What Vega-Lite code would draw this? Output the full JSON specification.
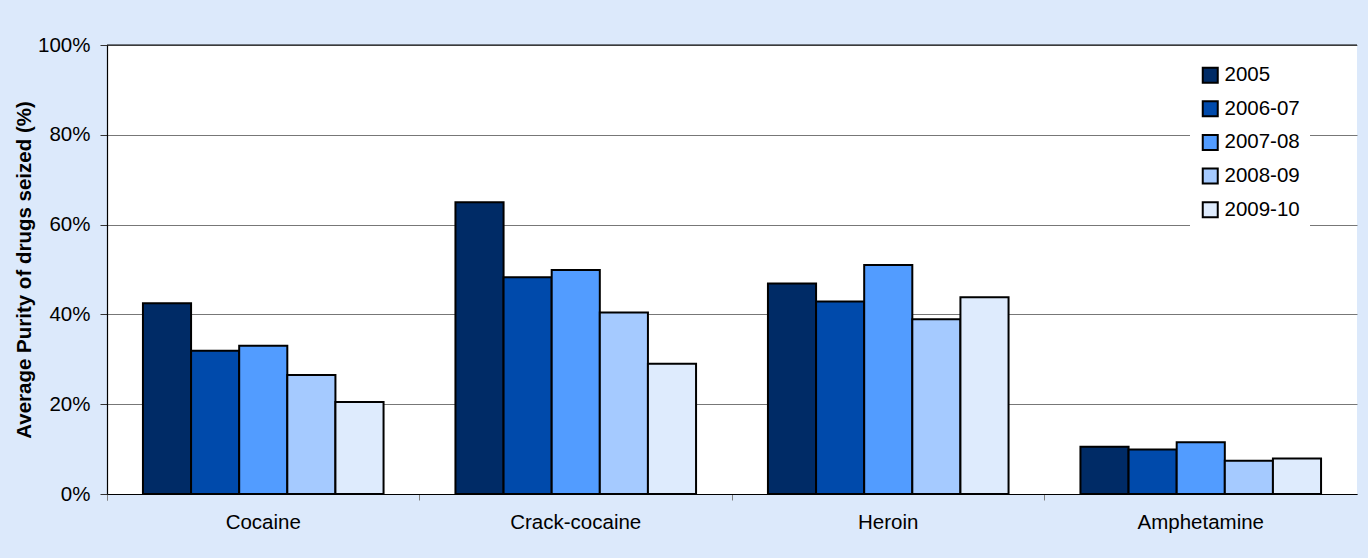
{
  "$schema": "https://vega.github.io/schema/vega-lite/v6.json",
  "width": 1250,
  "height": 449,
  "autosize": {"type": "none"},
  "padding": {"left": 107, "top": 45, "right": 11, "bottom": 64},
  "background": "#dce9fb",
  "config": {
    "view": {"fill": "white", "stroke": null},
    "font": "Liberation Sans"
  },
  "data": {
    "values": [
      {"drug": "Cocaine", "year": "2005", "purity": 42.5},
      {"drug": "Cocaine", "year": "2006-07", "purity": 31.9},
      {"drug": "Cocaine", "year": "2007-08", "purity": 33.0},
      {"drug": "Cocaine", "year": "2008-09", "purity": 26.5},
      {"drug": "Cocaine", "year": "2009-10", "purity": 20.5},
      {"drug": "Crack-cocaine", "year": "2005", "purity": 65.0},
      {"drug": "Crack-cocaine", "year": "2006-07", "purity": 48.3},
      {"drug": "Crack-cocaine", "year": "2007-08", "purity": 49.9},
      {"drug": "Crack-cocaine", "year": "2008-09", "purity": 40.4},
      {"drug": "Crack-cocaine", "year": "2009-10", "purity": 29.0},
      {"drug": "Heroin", "year": "2005", "purity": 46.9},
      {"drug": "Heroin", "year": "2006-07", "purity": 42.9},
      {"drug": "Heroin", "year": "2007-08", "purity": 51.0},
      {"drug": "Heroin", "year": "2008-09", "purity": 38.9},
      {"drug": "Heroin", "year": "2009-10", "purity": 43.8},
      {"drug": "Amphetamine", "year": "2005", "purity": 10.5},
      {"drug": "Amphetamine", "year": "2006-07", "purity": 9.9},
      {"drug": "Amphetamine", "year": "2007-08", "purity": 11.5},
      {"drug": "Amphetamine", "year": "2008-09", "purity": 7.4},
      {"drug": "Amphetamine", "year": "2009-10", "purity": 7.9}
    ]
  },
  "layer": [
    {
      "mark": {"type": "bar", "stroke": "black", "strokeWidth": 2},
      "encoding": {
        "x": {
          "field": "drug",
          "type": "nominal",
          "sort": ["Cocaine", "Crack-cocaine", "Heroin", "Amphetamine"],
          "scale": {"paddingInner": 0, "paddingOuter": 0},
          "axis": {
            "title": null,
            "labelAngle": 0,
            "labelFontSize": 20.5,
            "labelColor": "black",
            "labelPadding": 12,
            "bandPosition": 0,
            "tickExtra": true,
            "tickSize": 6,
            "tickColor": "#808080",
            "domainColor": "black",
            "domainWidth": 1.2
          }
        },
        "xOffset": {
          "field": "year",
          "type": "nominal",
          "sort": ["2005", "2006-07", "2007-08", "2008-09", "2009-10"],
          "scale": {"paddingInner": 0, "paddingOuter": 0.747}
        },
        "y": {
          "field": "purity",
          "type": "quantitative",
          "scale": {"domain": [0, 100]},
          "axis": {
            "title": "Average Purity of drugs seized (%)",
            "titleFontSize": 20.5,
            "titleFontWeight": "bold",
            "titleColor": "black",
            "titlePadding": 3,
            "values": [0, 20, 40, 60, 80, 100],
            "labelExpr": "datum.value + '%'",
            "labelFontSize": 20.5,
            "labelColor": "black",
            "labelPadding": 10,
            "tickSize": 7,
            "tickColor": "#333333",
            "domainColor": "black",
            "domainWidth": 1.2,
            "grid": true,
            "gridColor": "#777777",
            "gridWidth": 1
          }
        },
        "color": {
          "field": "year",
          "type": "nominal",
          "scale": {
            "domain": ["2005", "2006-07", "2007-08", "2008-09", "2009-10"],
            "range": ["#002b66", "#004aab", "#529cff", "#a5caff", "#deebfd"]
          },
          "legend": {
            "title": null,
            "orient": "none",
            "legendX": 1083,
            "legendY": 10,
            "padding": 10,
            "fillColor": "white",
            "strokeColor": null,
            "symbolType": "square",
            "symbolSize": 225,
            "symbolStrokeColor": "black",
            "symbolStrokeWidth": 2,
            "symbolOpacity": 1,
            "labelFontSize": 20.5,
            "labelColor": "black",
            "labelOffset": 4,
            "rowPadding": 9.6
          }
        }
      }
    },
    {
      "data": {"values": [{}]},
      "mark": {"type": "rule", "color": "black", "strokeWidth": 1.2},
      "encoding": {"y": {"datum": 100}}
    }
  ]
}
